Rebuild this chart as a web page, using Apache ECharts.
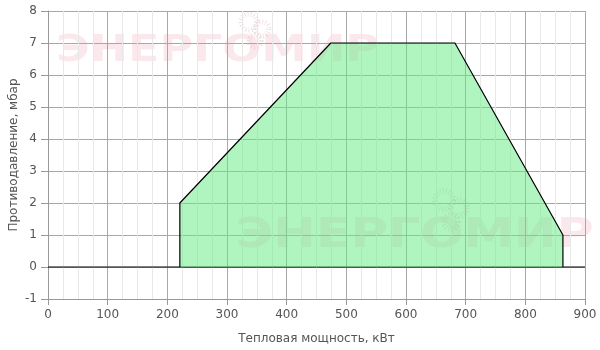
<!DOCTYPE html>
<html><head><meta charset="utf-8">
<script src="https://cdn.jsdelivr.net/npm/echarts@6/dist/echarts.min.js"></script>
<style>html,body{margin:0;padding:0;background:#fff}#c{width:600px;height:350px}</style>
</head><body><div id="c"></div>
<script>
const polyX = [221, 221, 474, 682, 863, 863];
const polyY = [0, 2, 7, 7, 1, 0];
const baseX = [0, 900];
const baseY = [0, 0];
const xTicks = [0, 100, 200, 300, 400, 500, 600, 700, 800, 900];
const yTicks = [-1, 0, 1, 2, 3, 4, 5, 6, 7, 8];
const xName = 'Тепловая мощность, кВт';
const yName = 'Противодавление, мбар';
const watermark = 'ЭНЕРГОМИР';

const chart = echarts.init(document.getElementById('c'), null, {renderer: 'canvas'});
const font = 'DejaVu Sans';
const wmFill = 'rgba(235,140,158,0.2)';
const logoStroke = 'rgba(200,150,160,0.28)';
function logo(cx, cy, s) {
  return [[0, 0, 8], [13, 7, 7], [6, 19, 6]].map(([dx, dy, r]) => ({
    type: 'circle', shape: {cx: cx + dx * s, cy: cy + dy * s, r: r * s}, z: 0, silent: true,
    style: {fill: 'none', stroke: logoStroke, lineWidth: 5 * s, lineDash: [1, 2]}
  }));
}
chart.setOption({
  animation: false,
  textStyle: {fontFamily: font},
  grid: {left: 48, right: 15, top: 11, bottom: 51, containLabel: false, outerBoundsMode: 'none'},
  graphic: [
    {type: 'text', x: 56, y: 33, scaleX: 1.24, z: 0, silent: true,
     style: {text: watermark, font: 'bold 37px "DejaVu Sans"', fill: wmFill}},
    {type: 'text', x: 236, y: 216, scaleX: 1.24, z: 0, silent: true,
     style: {text: watermark, font: 'bold 41px "DejaVu Sans"', fill: wmFill}}
  ].concat(logo(249, 22, 1), logo(444, 200, 1.15)),
  xAxis: {
    type: 'value', min: xTicks[0], max: xTicks[xTicks.length - 1], interval: 100,
    name: xName, nameLocation: 'middle', nameGap: 34, nameMoveOverlap: false,
    nameTextStyle: {color: '#555', fontSize: 12, fontFamily: font},
    axisLine: {show: true, onZero: false, lineStyle: {color: '#999'}},
    axisTick: {show: true, length: 6, lineStyle: {color: '#999'}},
    axisLabel: {color: '#555', fontSize: 12, fontFamily: font, margin: 10},
    splitLine: {show: true, lineStyle: {color: '#a8a8a8', width: 1}},
    minorTick: {show: false, splitNumber: 4},
    minorSplitLine: {show: true, lineStyle: {color: '#e8e8e8', width: 1}}
  },
  yAxis: {
    type: 'value', min: yTicks[0], max: yTicks[yTicks.length - 1], interval: 1,
    name: yName, nameLocation: 'middle', nameGap: 28, nameRotate: 90, nameMoveOverlap: false,
    nameTextStyle: {color: '#555', fontSize: 12, fontFamily: font},
    axisLine: {show: true, onZero: false, lineStyle: {color: '#999'}},
    axisTick: {show: true, length: 7, lineStyle: {color: '#999'}},
    axisLabel: {color: '#555', fontSize: 12, fontFamily: font, margin: 11},
    splitLine: {show: true, lineStyle: {color: '#a8a8a8', width: 1}}
  },
  series: [
    {type: 'line', data: baseX.map((x, i) => [x, baseY[i]]), symbol: 'none',
     lineStyle: {color: '#000', width: 1}, z: 3, silent: true},
    {type: 'line', data: polyX.map((x, i) => [x, polyY[i]]), symbol: 'none',
     lineStyle: {color: '#000', width: 1.2},
     areaStyle: {color: 'rgb(97,233,129)', opacity: 0.5, origin: 0}, z: 4, silent: true}
  ]
});
</script></body></html>
